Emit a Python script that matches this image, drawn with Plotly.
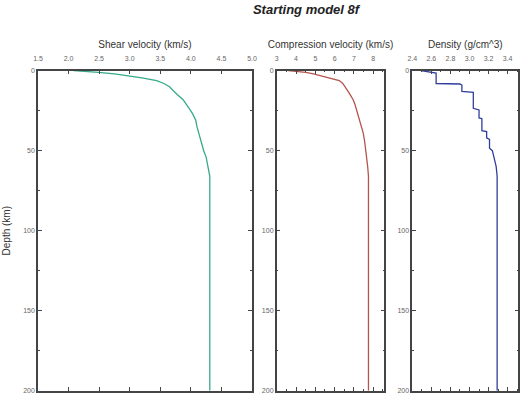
import plotly.graph_objects as go

# --- data ---
vs_depth = [0, 0.5, 1, 2, 3, 4.5, 6.2, 8, 10, 12.5, 15, 18, 21, 24, 27, 31, 35, 38, 41, 44, 47, 50, 54, 58, 62, 66, 200]
vs_vals = [2.08, 2.3, 2.49, 2.75, 2.95, 3.2, 3.44, 3.56, 3.65, 3.71, 3.78, 3.87, 3.93, 3.98, 4.03, 4.08, 4.10, 4.12,
           4.15, 4.16, 4.18, 4.21, 4.25, 4.27, 4.28, 4.31, 4.31]

vp_depth = [0, 0.5, 1, 2, 3, 4.5, 6.2, 8, 10, 12.5, 15, 18, 21, 24, 27, 31, 35, 39, 44, 50, 55, 60, 66, 200]
vp_vals = [3.6, 4.0, 4.5, 4.9, 5.2, 5.7, 6.24, 6.42, 6.55, 6.67, 6.8, 6.95, 7.05, 7.12, 7.2, 7.3, 7.38, 7.48,
           7.55, 7.62, 7.67, 7.71, 7.75, 7.75]

rho_depth = [0, 0.5, 1, 1.5, 8, 8.3, 9, 13, 13.5, 23.5, 24.5, 29.5, 30, 37.5, 38, 42, 43, 48.5, 50, 55, 60, 66, 200]
rho_vals = [2.49, 2.55, 2.6, 2.65, 2.65, 2.90, 2.92, 2.92, 3.04, 3.04, 3.10, 3.10, 3.13, 3.13, 3.18, 3.18, 3.21,
            3.21, 3.24, 3.26, 3.28, 3.29, 3.29]

title_text = "Starting model 8f"
x_titles = ["Shear velocity (km/s)", "Compression velocity (km/s)", "Density (g/cm^3)"]
y_title = "Depth (km)"

W, H = 520, 398
def px_x(p):
    return p / W
def px_y(p):
    return 1 - p / H

ytop, ybot = 70.7, 390.7
ydom = [px_y(ybot), px_y(ytop)]

fig = go.Figure()
fig.add_trace(go.Scatter(x=vs_vals, y=vs_depth, mode="lines", line=dict(color="#35a98a", width=1.3),
                         xaxis="x", yaxis="y", showlegend=False))
fig.add_trace(go.Scatter(x=vp_vals, y=vp_depth, mode="lines", line=dict(color="#b4544c", width=1.3),
                         xaxis="x2", yaxis="y2", showlegend=False))
fig.add_trace(go.Scatter(x=rho_vals, y=rho_depth, mode="lines", line=dict(color="#2f3e9c", width=1.3),
                         xaxis="x3", yaxis="y3", showlegend=False))

FONT = "Liberation Sans, Arial, sans-serif"
tickfont = dict(family=FONT, size=7, color="#666")
titlefont = dict(family=FONT, size=10, color="#333")
axline = "#444"

def xax(dom, rng, dtick, mdtick, fmt, title, anchor):
    d = dict(domain=dom, range=rng, side="top", dtick=dtick, tick0=rng[0],
             tickformat=fmt, ticks="inside", ticklen=4, tickwidth=1, tickcolor=axline,
             mirror="ticks", showline=True, linecolor=axline, linewidth=1.5,
             showgrid=False, zeroline=False, tickfont=tickfont, automargin=False,
             ticklabelstandoff=5,
             title=dict(text=title, font=titlefont, standoff=5), anchor=anchor)
    if mdtick:
        d["minor"] = dict(dtick=mdtick, ticks="inside", ticklen=2, tickcolor=axline)
    return d

def yax(title=None, anchor=None):
    d = dict(domain=ydom, range=[200, 0], dtick=50, ticks="inside", ticklen=4, tickwidth=1, tickcolor=axline,
             mirror="ticks", showline=True, linecolor=axline, linewidth=1.5, showgrid=False, zeroline=False,
             tickfont=tickfont, automargin=False,
             minor=dict(dtick=25, ticks="inside", ticklen=2, tickcolor=axline),
             anchor=anchor)
    if title:
        d["title"] = dict(text=title, font=titlefont, standoff=11)
    return d

fig.update_layout(
    width=W, height=H,
    margin=dict(l=0, r=0, t=0, b=0, autoexpand=False),
    paper_bgcolor="white", plot_bgcolor="white",
    title=dict(text=title_text, x=306 / W, xanchor="center", y=px_y(9), yanchor="middle",
               font=dict(family=FONT, size=13, color="#222", weight="bold", style="italic")),
    xaxis=xax([px_x(38), px_x(252)], [1.5, 5.0], 0.5, None, ".1f", x_titles[0], "y"),
    xaxis2=xax([px_x(276.7), px_x(384.3)], [3, 8.57], 1, 0.5, "d", x_titles[1], "y2"),
    xaxis3=xax([px_x(412.3), px_x(518.3)], [2.4, 3.512], 0.2, 0.1, ".1f", x_titles[2], "y3"),
    yaxis=yax(y_title, "x"),
    yaxis2=yax(None, "x2"),
    yaxis3=yax(None, "x3"),
)

fig.write_html("out.html", config={"displayModeBar": False},
               post_script="document.body.style.margin='0';document.body.style.overflow='hidden';")
